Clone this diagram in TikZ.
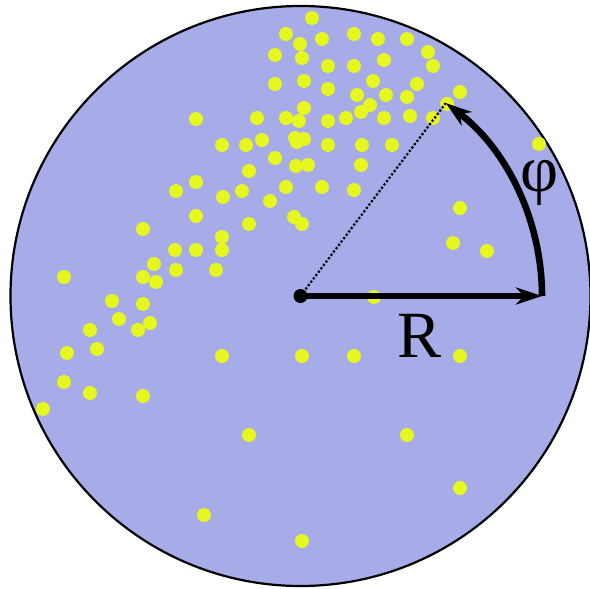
\documentclass[tikz,border=0pt]{standalone}
\usepackage{fontspec}
\setmainfont{Liberation Serif}
\usetikzlibrary{arrows.meta}
\definecolor{disk}{RGB}{167,171,232}
\definecolor{spot}{RGB}{229,247,30}
\tikzset{diskfill/.style={draw=black,fill=disk,line width=1.1pt},point/.style={fill=spot},vector/.style={line width=3.3pt,-{Stealth[length=13pt,width=8.5pt,inset=4pt]}},radial/.style={densely dotted,line width=1.1pt},symlabel/.style={font=\fontsize{33}{36}\selectfont,inner sep=0pt}}

\begin{document}
\begin{tikzpicture}[x=.5pt,y=-.5pt]
\useasboundingbox (0,0) rectangle (590,589);
\coordinate (O) at (300.5,296);
\draw[diskfill] (O) circle[radius=290];
\foreach \px/\py in {312/18,286/34,354/34,322/39,378/39,407/39,300/44,275/55,428/52,302/58,328/66,354/66,384/60,433/66,275/84,304/81,373/81,417/84,328/89,357/95,386/95,460/92,407/97,304/108,370/105,361/112,447/104,196/119,257/118,286/118,299/121,328/121,346/118,384/118,410/116,433/118,222/145,246/145,262/140,295/138,297/142,304/139,328/145,362/145,392/145,539/144,275/158,296/166,308/165,361/165,249/171,196/182,176/191,223/197,242/191,286/187,322/187,270/201,354/190,196/216,249/224,294/217,302/224,460/208,143/229,222/237,175/250,196/250,222/250,453/243,487/251,154/264,176/270,216/270,64/277,143/277,156/282,374/297,112/301,143/304,119/319,150/323,138/330,90/330,97/349,67/353,222/356,302/356,354/356,460/356,64/382,90/393,143/396,43/409,249/435,407/435,460/488,204/515,302/541}
  {\fill[point] (\px,\py) circle[radius=7];}
\coordinate (Rtip) at (542,296);
\coordinate (Ptip) at (445.8,103.1);
\draw[radial] (O) -- (Ptip);
\draw[vector] (O) -- (Rtip);
\draw[vector] (Rtip) arc[start angle=0,end angle=-53,radius=241.5];
\fill (O) circle[radius=7];
\node[symlabel] (rlabel) at (419.5,336) {R};
\node[symlabel] (philabel) at (540,183) {φ};
\end{tikzpicture}
\end{document}
